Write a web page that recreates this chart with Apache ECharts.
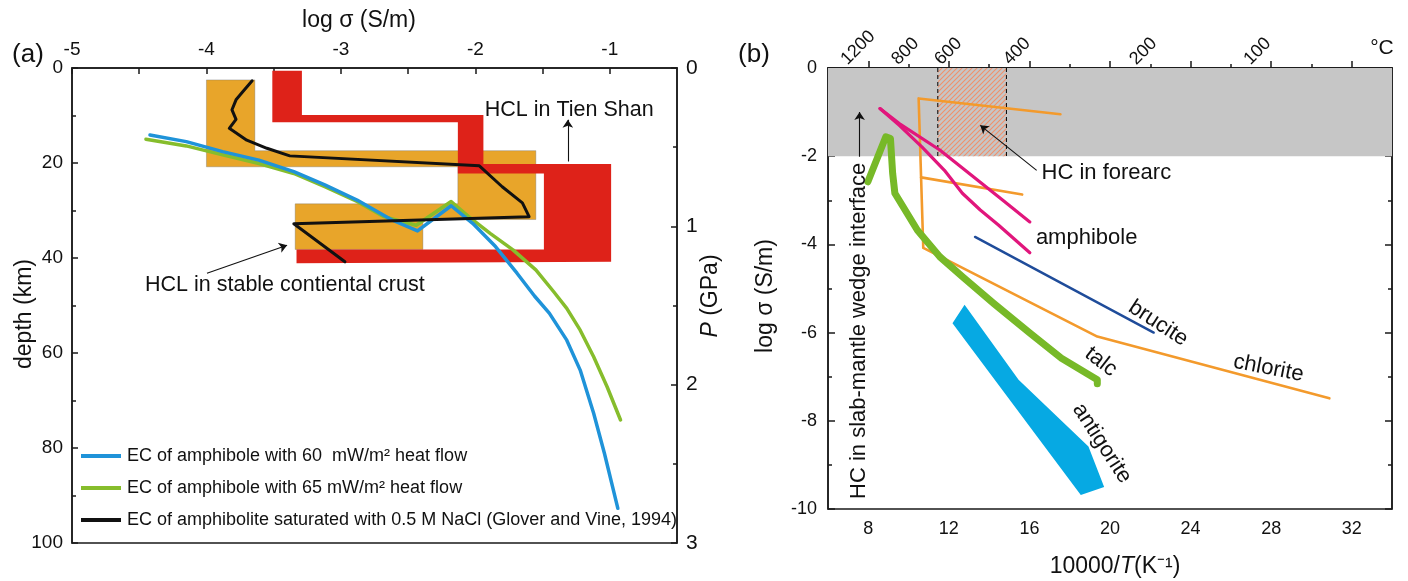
<!DOCTYPE html>
<html>
<head>
<meta charset="utf-8">
<title>Electrical conductivity of hydrous minerals</title>
<script src="https://cdn.jsdelivr.net/npm/echarts@6/dist/echarts.min.js"></script>
<style>
  html, body { margin: 0; padding: 0; background: #fff; }
  #chart { width: 1408px; height: 581px; }
</style>
</head>
<body>
<div id="chart"></div>
<script>
// ---------- panel (a): conductivity versus depth ----------
const logSigmaLabelsA = [-5, -4, -3, -2, -1];
const logSigmaTicksA = [-5, -4.5, -4, -3.5, -3, -2.5, -2, -1.5, -1];
const depthTicks = [0, 20, 40, 60, 80, 100];
const pressureTicks = [0, 1, 2, 3];

// [log sigma, depth km]
const stableCrustBand = [[-4.0, 2.5], [-3.64, 2.5], [-3.64, 17.4], [-1.55, 17.4], [-1.55, 31.9], [-2.39, 31.9],
  [-2.39, 38.2], [-3.34, 38.2], [-3.34, 28.6], [-2.13, 28.6], [-2.13, 20.8], [-4.0, 20.8]];
const tienShanBand = [[-3.51, 0.6], [-3.29, 0.6], [-3.29, 9.9], [-1.94, 9.9], [-1.94, 20.2], [-0.99, 20.2],
  [-0.99, 40.8], [-3.33, 41.1], [-3.33, 38.2], [-1.49, 38.2], [-1.49, 22.2], [-2.13, 22.2], [-2.13, 11.4], [-3.51, 11.4]];

const amphibole60 = [[-4.42, 14.1], [-4.15, 15.5], [-3.88, 17.6], [-3.61, 19.4], [-3.35, 21.8], [-3.12, 24.6],
  [-2.88, 27.8], [-2.62, 32.0], [-2.43, 34.3], [-2.18, 29.0], [-2.02, 32.7], [-1.85, 37.6], [-1.69, 43.2],
  [-1.56, 48.0], [-1.45, 51.6], [-1.32, 57.3], [-1.22, 63.6], [-1.12, 72.7], [-1.04, 81.1], [-0.94, 92.7]];
const amphibole65 = [[-4.45, 15.0], [-4.15, 16.4], [-3.88, 18.3], [-3.61, 20.1], [-3.35, 22.2], [-3.12, 25.0],
  [-2.88, 28.1], [-2.68, 31.3], [-2.44, 33.1], [-2.18, 28.1], [-2.05, 31.3], [-1.89, 34.8], [-1.72, 38.3],
  [-1.55, 42.5], [-1.42, 47.0], [-1.32, 50.6], [-1.22, 55.2], [-1.12, 60.8], [-1.02, 67.1], [-0.92, 74.1]];
const amphiboliteNaCl = [[-3.66, 2.7], [-3.73, 5.0], [-3.78, 6.7], [-3.81, 8.8], [-3.78, 10.8], [-3.83, 12.7],
  [-3.70, 15.2], [-3.55, 16.9], [-3.38, 18.5], [-1.97, 20.6], [-1.80, 25.0], [-1.65, 28.4], [-1.60, 31.3],
  [-3.35, 32.8], [-2.97, 40.8]];

// [x1, y1, x2, y2] arrow from tail to head, and [x, y, text, rotation] notes
const arrowsA = [[-1.312, 19.7, -1.312, 10.9], [-3.996, 43.2, -3.40, 37.3]];
const notesA = [[-1.302, 8.84, 'HCL in Tien Shan', 0], [-3.417, 45.7, 'HCL in stable contiental crust', 0]];

const name60 = 'EC of amphibole with 60  mW/m\u00B2 heat flow';
const name65 = 'EC of amphibole with 65 mW/m\u00B2 heat flow';
const nameNaCl = 'EC of amphibolite saturated with 0.5 M NaCl (Glover and Vine, 1994)';

// ---------- panel (b): conductivity versus inverse temperature ----------
const invTMajor = [8, 12, 16, 20, 24, 28, 32];
const invTMinor = [10, 14, 18, 22, 26, 30];
const logSigmaTicksB = [0, -2, -4, -6, -8, -10];
const celsiusTicks = [1300, 1200, 1100, 1000, 900, 800, 600, 400, 300, 200, 100];
const celsiusLabels = [1200, 800, 600, 400, 200, 100];

// [10000/T, log sigma]
const highConductivityBand = [[6, 0], [34, 0], [34, -2], [6, -2]];
const forearcRange = [11.45, 14.86];   // 600 - 400 degC
const forearcBand = [[forearcRange[0], 0], [forearcRange[1], 0], [forearcRange[1], -2], [forearcRange[0], -2]];
const antigorite = [[12.18, -5.79], [12.78, -5.37], [15.46, -7.07], [18.93, -8.58], [19.71, -9.50], [18.55, -9.68]];
const chlorite = [[17.54, -1.05], [10.50, -0.69], [10.73, -4.08], [19.37, -6.09], [30.89, -7.49]];
const chloriteBranch = [[10.62, -2.48], [15.64, -2.87]];
const talc = [[7.98, -2.58], [8.87, -1.56], [9.10, -1.60], [9.21, -2.39], [9.32, -2.84], [10.44, -3.68],
  [11.55, -4.28], [12.67, -4.73], [14.23, -5.34], [16.02, -6.01], [17.59, -6.58], [19.37, -7.07], [19.37, -7.16]];
const amphiboleUpper = [[8.58, -0.92], [9.54, -1.26], [11.55, -1.86], [14.68, -3.00], [16.02, -3.49]];
const amphiboleLower = [[8.58, -0.92], [9.54, -1.30], [10.66, -1.79], [11.78, -2.32], [12.67, -2.84],
  [13.56, -3.22], [14.46, -3.56], [16.02, -4.19]];
const brucite = [[13.30, -3.83], [22.17, -6.00]];

const arrowsB = [[16.36, -2.32, 13.56, -1.30], [7.57, -2.01, 7.57, -1.0]];
const notesB = [
  [19.82, -2.38, 'HC in forearc', 0],
  [18.84, -3.86, 'amphibole', 0],
  [22.39, -5.79, 'brucite', -33],
  [27.87, -6.81, 'chlorite', -11],
  [19.55, -6.66, 'talc', -38],
  [19.60, -8.51, 'antigorite', -57],
  [7.53, -5.96, 'HC in slab-mantle wedge interface', 90]
];

// ---------- styling ----------
const AX = '#1a1a1a';
const INK = '#111111';
const SANS = '"Liberation Sans", Arial, Helvetica, sans-serif';
const toInvT = c => 10000 / (c + 273.15);

// diagonal hatch for the forearc window
const hatch = document.createElement('canvas');
hatch.width = 5; hatch.height = 5;
(function () {
  const g = hatch.getContext('2d');
  g.strokeStyle = '#f0906c';
  g.lineWidth = 1.1;
  g.beginPath();
  g.moveTo(0, 5); g.lineTo(5, 0);
  g.moveTo(-1, 1); g.lineTo(1, -1);
  g.moveTo(4, 6); g.lineTo(6, 4);
  g.stroke();
})();

function areaSeries(name, pts, fill, xi, yi, z, stroke) {
  return {
    type: 'custom', name: name, xAxisIndex: xi, yAxisIndex: yi, z: z, silent: true,
    data: pts,
    renderItem: function (params, api) {
      if (params.dataIndex !== 0) return null;
      return {
        type: 'polygon',
        shape: { points: pts.map(p => api.coord(p)) },
        style: { fill: fill, stroke: stroke || 'none', lineWidth: stroke ? 0.6 : 0 }
      };
    }
  };
}

function lineSeries(name, pts, color, width, xi, yi, z, extra) {
  return Object.assign({
    type: 'line', name: name, xAxisIndex: xi, yAxisIndex: yi, z: z, data: pts,
    showSymbol: false, symbol: 'none', silent: true, animation: false,
    color: color, itemStyle: { color: color },
    lineStyle: { color: color, width: width, join: 'round', cap: 'round' }
  }, extra || {});
}

function arrowSeries(arrows, xi, yi) {
  return {
    type: 'lines', coordinateSystem: 'cartesian2d', xAxisIndex: xi, yAxisIndex: yi, z: 12, silent: true,
    symbol: ['none', 'arrow'], symbolSize: [0, 8],
    lineStyle: { color: INK, width: 1.1, opacity: 1 },
    data: arrows.map(a => ({ coords: [[a[0], a[1]], [a[2], a[3]]] }))
  };
}

const tickFont = { color: INK, fontFamily: SANS };

const option = {
  animation: false,
  backgroundColor: '#fff',
  grid: [
    { left: 72, top: 68, width: 605, height: 475, show: true, borderColor: AX, borderWidth: 1.5, backgroundColor: 'transparent' },
    { left: 828, top: 68, width: 564, height: 441, show: true, borderColor: AX, borderWidth: 1.5, backgroundColor: 'transparent' }
  ],
  xAxis: [
    { // log sigma, panel (a)
      gridIndex: 0, type: 'value', position: 'top', min: -5, max: -0.5,
      axisLine: { show: true, lineStyle: { color: AX, width: 1.5 } },
      axisTick: { show: true, inside: true, length: 6, customValues: logSigmaTicksA, lineStyle: { color: AX, width: 1.5 } },
      axisLabel: Object.assign({ customValues: logSigmaLabelsA, margin: 9, fontSize: 19 }, tickFont),
      splitLine: { show: false }
    },
    { // 10000/T, panel (b)
      gridIndex: 1, type: 'value', position: 'bottom', min: 6, max: 34,
      axisLine: { show: true, lineStyle: { color: AX, width: 1.5 } },
      axisTick: { show: true, inside: true, length: 7, customValues: invTMajor, lineStyle: { color: AX, width: 1.5 } },
      axisLabel: Object.assign({ customValues: invTMajor, margin: 11, fontSize: 18 }, tickFont),
      splitLine: { show: false }
    },
    { // minor ticks of 10000/T
      gridIndex: 1, type: 'value', position: 'bottom', min: 6, max: 34,
      axisLine: { show: false },
      axisTick: { show: true, inside: true, length: 4, customValues: invTMinor, lineStyle: { color: AX, width: 1.5 } },
      axisLabel: { show: false },
      splitLine: { show: false }
    },
    { // temperature in degC, panel (b)
      gridIndex: 1, type: 'value', position: 'top', min: 6, max: 34,
      axisLine: { show: true, lineStyle: { color: AX, width: 1.5 } },
      axisTick: { show: true, inside: true, length: 6, customValues: celsiusTicks.map(toInvT), lineStyle: { color: AX, width: 1.5 } },
      axisLabel: Object.assign({
        customValues: celsiusLabels.map(toInvT), rotate: -45, margin: 6, fontSize: 18,
        formatter: v => String(Math.round(10000 / v - 273.15))
      }, tickFont),
      splitLine: { show: false }
    }
  ],
  yAxis: [
    { // depth
      gridIndex: 0, type: 'value', position: 'left', inverse: true, min: 0, max: 100, interval: 20,
      axisLine: { show: true, lineStyle: { color: AX, width: 1.5 } },
      axisTick: { show: true, inside: true, length: 6, lineStyle: { color: AX, width: 1.5 } },
      minorTick: { show: true, splitNumber: 2, length: 4, lineStyle: { color: AX, width: 1.5 } },
      axisLabel: Object.assign({ margin: 9, fontSize: 19 }, tickFont),
      splitLine: { show: false }, minorSplitLine: { show: false }
    },
    { // pressure
      gridIndex: 0, type: 'value', position: 'right', inverse: true, min: 0, max: 3, interval: 1,
      axisLine: { show: true, lineStyle: { color: AX, width: 1.5 } },
      axisTick: { show: true, inside: true, length: 6, lineStyle: { color: AX, width: 1.5 } },
      minorTick: { show: true, splitNumber: 2, length: 4, lineStyle: { color: AX, width: 1.5 } },
      axisLabel: Object.assign({ margin: 9, fontSize: 21 }, tickFont),
      splitLine: { show: false }, minorSplitLine: { show: false }
    },
    { // log sigma, panel (b)
      gridIndex: 1, type: 'value', position: 'left', min: -10, max: 0, interval: 2,
      axisLine: { show: true, lineStyle: { color: AX, width: 1.5 } },
      axisTick: { show: true, inside: true, length: 7, lineStyle: { color: AX, width: 1.5 } },
      minorTick: { show: true, splitNumber: 2, length: 4, lineStyle: { color: AX, width: 1.5 } },
      axisLabel: Object.assign({ margin: 11, fontSize: 18 }, tickFont),
      splitLine: { show: false }, minorSplitLine: { show: false }
    },
    { // right frame of panel (b)
      gridIndex: 1, type: 'value', position: 'right', min: -10, max: 0, interval: 2,
      axisLine: { show: true, lineStyle: { color: AX, width: 1.5 } },
      axisTick: { show: true, inside: true, length: 7, lineStyle: { color: AX, width: 1.5 } },
      minorTick: { show: true, splitNumber: 2, length: 4, lineStyle: { color: AX, width: 1.5 } },
      axisLabel: { show: false },
      splitLine: { show: false }, minorSplitLine: { show: false }
    }
  ],
  legend: {
    data: [name60, name65, nameNaCl], orient: 'vertical', left: 76, top: 442,
    icon: 'rect', itemWidth: 40, itemHeight: 4, itemGap: 14, selectedMode: false,
    textStyle: { fontSize: 18, fontFamily: SANS, color: INK, padding: [0, 0, 0, 1] }
  },
  series: [
    // panel (a)
    areaSeries('stable continental crust', stableCrustBand, '#e8a52a', 0, 0, 1, 'rgba(110,110,110,0.6)'),
    areaSeries('Tien Shan', tienShanBand, '#de2219', 0, 0, 2),
    lineSeries(name65, amphibole65, '#86bd2c', 3.5, 0, 0, 3),
    lineSeries(name60, amphibole60, '#1f93d9', 3.5, 0, 0, 4),
    lineSeries(nameNaCl, amphiboliteNaCl, INK, 3, 0, 0, 5),
    arrowSeries(arrowsA, 0, 0),

    // panel (b)
    areaSeries('high conductivity', highConductivityBand, '#c6c6c6', 1, 2, 1),
    areaSeries('forearc', forearcBand, { image: hatch, repeat: 'repeat' }, 1, 2, 2),
    lineSeries('600 degC', [[forearcRange[0], 0], [forearcRange[0], -2]], INK, 1.1, 1, 2, 3,
      { lineStyle: { color: INK, width: 1.1, type: [4, 3] } }),
    lineSeries('400 degC', [[forearcRange[1], 0], [forearcRange[1], -2]], INK, 1.1, 1, 2, 3,
      { lineStyle: { color: INK, width: 1.1, type: [4, 3] } }),
    areaSeries('antigorite', antigorite, '#06a9e3', 1, 2, 4),
    lineSeries('chlorite', chlorite, '#f39a2c', 2.6, 1, 2, 5),
    lineSeries('chlorite branch', chloriteBranch, '#f39a2c', 2.6, 1, 2, 5),
    lineSeries('talc', talc, '#77b928', 7, 1, 2, 6),
    lineSeries('amphibole upper', amphiboleUpper, '#e1167c', 3.2, 1, 2, 7),
    lineSeries('amphibole lower', amphiboleLower, '#e1167c', 3.2, 1, 2, 7),
    lineSeries('brucite', brucite, '#1f4c9a', 2.4, 1, 2, 8),
    arrowSeries(arrowsB, 1, 2)
  ]
};

const chart = echarts.init(document.getElementById('chart'), null, { renderer: 'canvas' });
chart.setOption(option);

// panel letters, axis titles and in-plot notes
function text(x, y, str, size, rotationDeg, rich) {
  const style = { text: str, fontSize: size, fontFamily: SANS, fill: INK, align: 'center', verticalAlign: 'middle' };
  if (rich) style.rich = rich;
  return { type: 'text', x: x, y: y, rotation: (rotationDeg || 0) * Math.PI / 180, z: 100, style: style };
}
const italic = { i: { fontStyle: 'italic', fontSize: 23, fontFamily: SANS, fill: INK } };

const graphics = [
  text(28, 55, '(a)', 26),
  text(754, 55, '(b)', 26),
  text(359, 21, 'log \u03C3 (S/m)', 23),
  text(25, 314, 'depth (km)', 23, 90),
  text(711, 296, '{i|P} (GPa)', 23, 90, italic),
  text(766, 296, 'log \u03C3 (S/m)', 23, 90),
  text(1115, 567, '10000/{i|T}(K\u207B\u00B9)', 23, 0, italic),
  text(1382, 48, '\u00B0C', 21)
];
notesA.forEach(n => {
  const p = chart.convertToPixel({ xAxisIndex: 0, yAxisIndex: 0 }, [n[0], n[1]]);
  graphics.push(text(p[0], p[1], n[2], 21.5, n[3]));
});
notesB.forEach(n => {
  const p = chart.convertToPixel({ xAxisIndex: 1, yAxisIndex: 2 }, [n[0], n[1]]);
  graphics.push(text(p[0], p[1], n[2], 22, n[3]));
});
chart.setOption({ graphic: graphics });
</script>
</body>
</html>
